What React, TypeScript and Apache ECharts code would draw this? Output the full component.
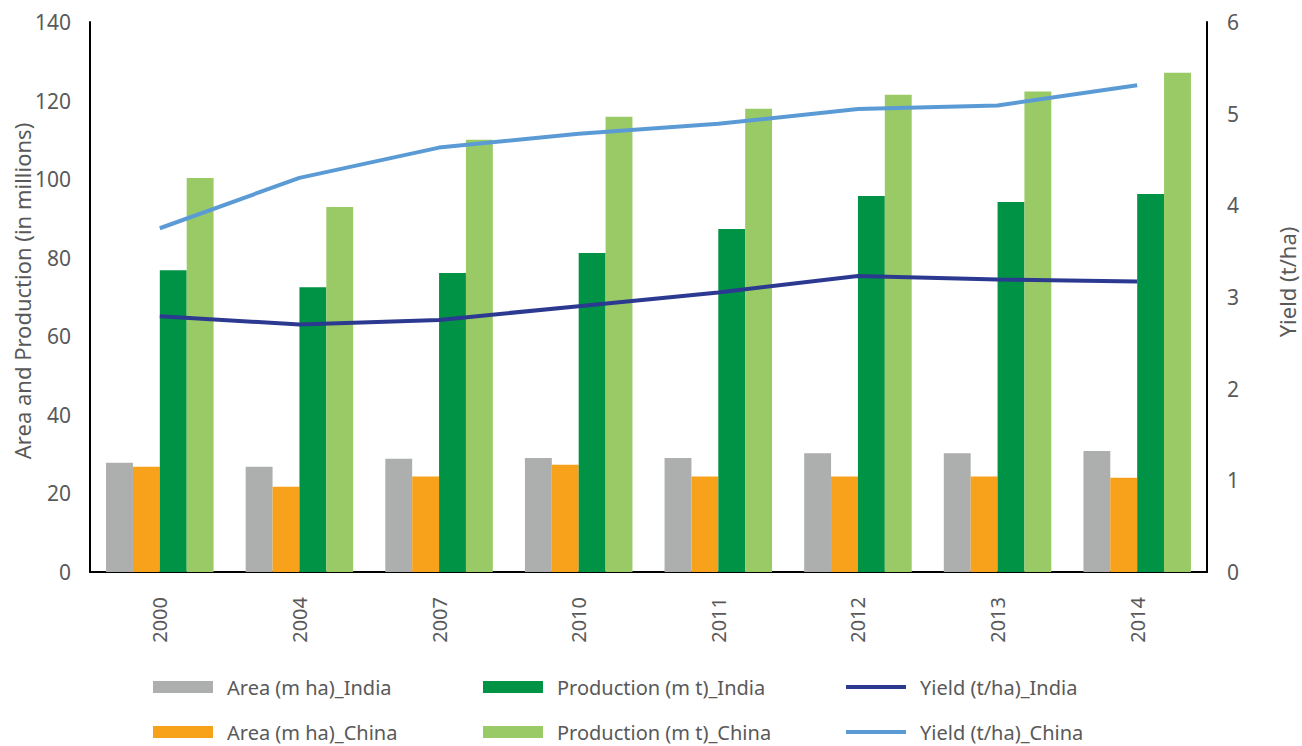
import React, { useEffect, useRef } from "react";
import * as echarts from "echarts";

const years = ["2000", "2004", "2007", "2010", "2011", "2012", "2013", "2014"];
const areaIndia = [27.8, 26.8, 28.8, 29.0, 29.0, 30.2, 30.2, 30.8];
const areaChina = [26.8, 21.7, 24.3, 27.3, 24.3, 24.3, 24.3, 24.0];
const prodIndia = [76.8, 72.5, 76.1, 81.2, 87.3, 95.7, 94.2, 96.2];
const prodChina = [100.3, 92.9, 110.0, 115.9, 117.9, 121.5, 122.3, 127.1];
const yieldIndia = [2.79, 2.7, 2.75, 2.9, 3.05, 3.23, 3.19, 3.17];
const yieldChina = [3.75, 4.3, 4.63, 4.78, 4.89, 5.05, 5.09, 5.31];

const names = [
  "Area (m ha)_India",
  "Area (m ha)_China",
  "Production (m t)_India",
  "Production (m t)_China",
  "Yield (t/ha)_India",
  "Yield (t/ha)_China",
];
const leftAxisName = "Area and Production (in millions)";
const rightAxisName = "Yield (t/ha)";
const colors = ["#ADAFAE", "#F8A11B", "#009245", "#99CA65", "#2B3990", "#5B9BD5"];

const FONT = "Noto Sans";
const TXT = "#595959";

export default function App() {
  const ref = useRef<HTMLDivElement>(null);
  useEffect(() => {
    document.body.style.margin = "0";
    const chart = echarts.init(ref.current!, null, { renderer: "svg" });
    const legendPos = [
      { left: 153, top: 677, name: names[0], h: 12 },
      { left: 153, top: 722, name: names[1], h: 12 },
      { left: 483, top: 677, name: names[2], h: 12 },
      { left: 483, top: 722, name: names[3], h: 12 },
      { left: 846, top: 677, name: names[4], h: 4 },
      { left: 846, top: 722, name: names[5], h: 4 },
    ];
    const bar = (i: number, data: number[]) => ({
      name: names[i],
      type: "bar",
      data,
      itemStyle: { color: colors[i] },
      barGap: "0%",
      barCategoryGap: "23%",
    });
    const line = (i: number, data: number[]) => ({
      name: names[i],
      type: "line",
      yAxisIndex: 1,
      data,
      showSymbol: false,
      symbol: "none",
      lineStyle: { color: colors[i], width: 4 },
      itemStyle: { color: colors[i] },
    });
    chart.setOption({
      animation: false,
      textStyle: { fontFamily: FONT },
      grid: { left: 90, right: 95, top: 22, bottom: 174, containLabel: false },
      legend: legendPos.map((l) => ({
        left: l.left,
        top: l.top,
        data: [{ name: l.name, icon: "rect" }],
        itemWidth: 60,
        itemHeight: l.h,
        itemGap: 0,
        padding: 0,
        textStyle: { color: TXT, fontSize: 20, lineHeight: 20, fontFamily: FONT, padding: [0, 0, 0, 9] },
        selectedMode: false,
      })),
      graphic: [
        {
          type: "text",
          x: 22,
          y: 291,
          rotation: Math.PI / 2,
          style: {
            text: leftAxisName,
            fill: TXT,
            fontSize: 22,
            fontFamily: FONT,
            align: "center",
            verticalAlign: "middle",
          },
        },
        {
          type: "text",
          x: 1287,
          y: 282,
          rotation: Math.PI / 2,
          style: {
            text: rightAxisName,
            fill: TXT,
            fontSize: 22,
            fontFamily: FONT,
            align: "center",
            verticalAlign: "middle",
          },
        },
      ],
      xAxis: {
        type: "category",
        data: years,
        axisLine: { lineStyle: { color: "#000", width: 2 } },
        axisTick: { show: false },
        axisLabel: { rotate: 90, color: TXT, fontSize: 20, margin: 25, fontFamily: FONT },
      },
      yAxis: [
        {
          type: "value",
          min: 0,
          max: 140,
          interval: 20,
          axisLine: { show: true, lineStyle: { color: "#000", width: 2 } },
          axisTick: { show: false },
          splitLine: { show: false },
          axisLabel: { color: TXT, fontSize: 21, margin: 19, fontFamily: FONT },
        },
        {
          type: "value",
          min: 0,
          max: 6,
          interval: 1,
          axisLine: { show: true, lineStyle: { color: "#000", width: 2 } },
          axisTick: { show: false },
          splitLine: { show: false },
          axisLabel: { color: TXT, fontSize: 21, margin: 20, fontFamily: FONT },
        },
      ],
      series: [
        bar(0, areaIndia),
        bar(1, areaChina),
        bar(2, prodIndia),
        bar(3, prodChina),
        line(4, yieldIndia),
        line(5, yieldChina),
      ],
    });
    return () => chart.dispose();
  }, []);
  return <div ref={ref} style={{ width: 1302, height: 746 }} />;
}
